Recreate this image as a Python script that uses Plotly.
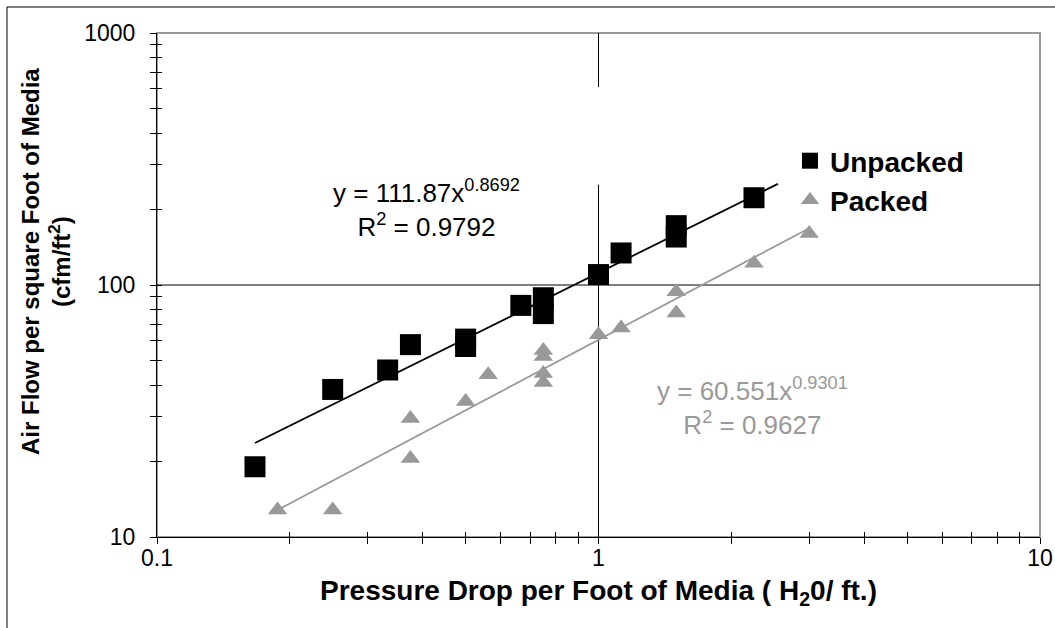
import plotly.graph_objects as go

# ---- data ----
unpacked_x = [0.1667, 0.25, 0.333, 0.375, 0.5, 0.5, 0.667, 0.75, 0.75, 1.0, 1.125, 1.5, 1.5, 2.25]
unpacked_y = [19, 38.5, 46, 58, 61, 57, 83, 89, 77, 110, 134, 172, 155, 222]

packed_x = [0.1875, 0.25, 0.375, 0.375, 0.5, 0.5625, 0.75, 0.75, 0.75, 0.75, 1.0, 1.125, 1.5, 1.5, 2.25, 3.0]
packed_y = [12.8, 12.8, 29.5, 20.5, 34.5, 44, 55, 52, 44.5, 41, 63.5, 67.5, 94, 77.5, 122, 160]

# power-law trendlines (straight on log-log): endpoints
trend_unpacked_x = [0.1667, 2.55]
trend_unpacked_y = [23.6, 252]
trend_packed_x = [0.1875, 3.0]
trend_packed_y = [12.8, 168]

x_tickvals = [0.1, 1, 10]
x_ticktext = ["0.1", "1", "10"]
y_tickvals = [10, 100, 1000]
y_ticktext = ["10", "100", "1000"]

FONT = "Arial, 'Liberation Sans', sans-serif"
GRAY = "#999999"

# plot-area pixel box
L, R, T, B = 157, 1040, 33, 537
W, H = R - L, B - T


def px(xp):
    return (xp - L) / W


def py(yp):
    return (B - yp) / H


x_minor = [m * d for d in (0.1, 1) for m in range(2, 10)]
y_minor = [m * d for d in (10, 100) for m in range(2, 10)]

fig = go.Figure()

fig.add_trace(go.Scatter(x=trend_unpacked_x, y=trend_unpacked_y, mode="lines",
                         line=dict(color="black", width=1.8), showlegend=False, hoverinfo="skip"))
fig.add_trace(go.Scatter(x=trend_packed_x, y=trend_packed_y, mode="lines",
                         line=dict(color=GRAY, width=1.8), showlegend=False, hoverinfo="skip"))
fig.add_trace(go.Scatter(x=unpacked_x, y=unpacked_y, mode="markers", name="Unpacked",
                         marker=dict(symbol="square", size=21, color="black",
                                     line=dict(width=0))))
fig.add_trace(go.Scatter(x=packed_x, y=packed_y, mode="markers", name="Packed",
                         marker=dict(symbol="triangle-up", size=17, color=GRAY,
                                     line=dict(width=0))))
# dummy trace for overlay axes (cross ticks)
fig.add_trace(go.Scatter(x=[1], y=[100], xaxis="x2", yaxis="y2", mode="markers",
                         marker=dict(opacity=0), showlegend=False, hoverinfo="skip"))

# gridlines (major only), vertical has a gap behind the legend block
fig.add_shape(type="line", xref="x", yref="y", x0=0.1, x1=10, y0=100, y1=100,
              line=dict(color="black", width=1), layer="below")
fig.add_shape(type="line", xref="x", yref="y", x0=1, x1=1, y0=10, y1=250,
              line=dict(color="black", width=1), layer="below")
fig.add_shape(type="line", xref="x", yref="y", x0=1, x1=1, y0=610, y1=1000,
              line=dict(color="black", width=1), layer="below")
# gray plot-area border (top/right)
fig.add_shape(type="rect", xref="paper", yref="paper", x0=0, x1=1, y0=0, y1=1,
              line=dict(color="#9a9a9a", width=2), layer="below")
# outer chart border (top/left visible)
fig.add_shape(type="rect", xref="paper", yref="paper",
              x0=px(7), x1=px(1070), y0=py(640), y1=py(7),
              line=dict(color="black", width=1))

# trendline equations
fig.add_annotation(xref="paper", yref="paper", x=px(426), y=py(208),
                   xanchor="center", yanchor="middle",
                   text="y = 111.87x<sup>0.8692</sup><br>R<sup>2</sup> = 0.9792",
                   showarrow=False, font=dict(family=FONT, size=26, color="black"),
                   align="center")
fig.add_annotation(xref="paper", yref="paper", x=px(752), y=py(406),
                   xanchor="center", yanchor="middle",
                   text="y = 60.551x<sup>0.9301</sup><br>R<sup>2</sup> = 0.9627",
                   showarrow=False, font=dict(family=FONT, size=26, color=GRAY),
                   align="center")

# axis titles
fig.add_annotation(xref="paper", yref="paper", x=px(598), y=py(592),
                   xanchor="center", yanchor="middle",
                   text="<b>Pressure Drop per Foot of Media ( H<sub>2</sub>0/ ft.)</b>",
                   showarrow=False, font=dict(family=FONT, size=28, color="black"))
fig.add_annotation(xref="paper", yref="paper", x=px(46), y=py(262), textangle=-90,
                   xanchor="center", yanchor="middle",
                   text="<b>Air Flow per square Foot of Media<br>(cfm/ft<sup>2</sup>)</b>",
                   showarrow=False, font=dict(family=FONT, size=24, color="black"),
                   align="center")

axis_common = dict(type="log", showgrid=False, zeroline=False, showline=True,
                   linecolor="black", linewidth=1, ticks="outside", ticklen=6,
                   tickcolor="black", tickwidth=1, automargin=False,
                   tickfont=dict(family=FONT, size=23, color="black"))

fig.update_layout(
    width=1055, height=628,
    margin=dict(l=L, r=1055 - R, t=T, b=628 - B),
    paper_bgcolor="white", plot_bgcolor="white",
    xaxis=dict(**axis_common, range=[-1, 1], tickvals=x_tickvals, ticktext=x_ticktext,
               ticklabelstandoff=-6,
               minor=dict(tickvals=x_minor, ticks="outside", ticklen=6,
                          tickcolor="black", tickwidth=1)),
    yaxis=dict(**axis_common, range=[1, 3], tickvals=y_tickvals, ticktext=y_ticktext,
               ticklabelstandoff=10,
               minor=dict(tickvals=y_minor, ticks="outside", ticklen=6,
                          tickcolor="black", tickwidth=1)),
    xaxis2=dict(type="log", overlaying="x", anchor="y2", range=[-1, 1], showgrid=False,
                zeroline=False, showticklabels=False, ticks="inside", ticklen=5,
                tickcolor="black", tickvals=x_tickvals, automargin=False,
                minor=dict(tickvals=x_minor, ticks="inside", ticklen=5, tickcolor="black")),
    yaxis2=dict(type="log", overlaying="y", anchor="x2", range=[1, 3], showgrid=False,
                zeroline=False, showticklabels=False, ticks="inside", ticklen=5,
                tickcolor="black", tickvals=y_tickvals, side="left", automargin=False,
                minor=dict(tickvals=y_minor, ticks="inside", ticklen=5, tickcolor="black")),
    legend=dict(x=px(790), y=py(136), xanchor="left", yanchor="top",
                bgcolor="rgba(0,0,0,0)", itemsizing="trace", tracegroupgap=0,
                font=dict(family=FONT, size=28, color="black", weight="bold")),
    showlegend=True,
)

fig.write_html("out.html")
